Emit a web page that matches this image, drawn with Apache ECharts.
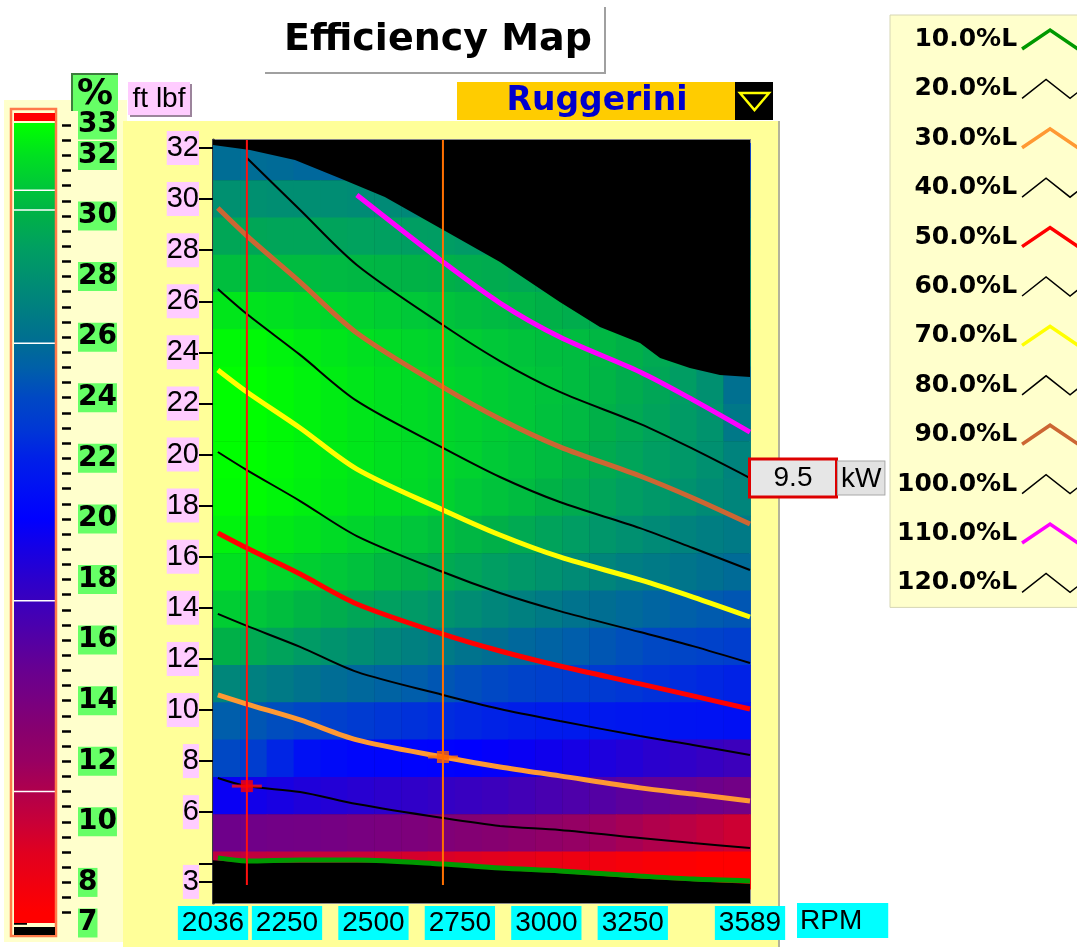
<!DOCTYPE html>
<html>
<head>
<meta charset="utf-8">
<title>Efficiency Map</title>
<script src="https://cdn.jsdelivr.net/npm/echarts@6/dist/echarts.min.js"></script>
<style>
  html, body { margin: 0; padding: 0; background: #ffffff; }
  #chart { width: 1077px; height: 947px; }
</style>
</head>
<body>
<div id="chart"></div>
<script>
// ---------------- data ----------------
const engineName = 'Ruggerini';
const ratedKw = 9.5;

// axis labels
const rpmTicks = [2036, 2250, 2500, 2750, 3000, 3250, 3589];
const torqueTicks = [3.27, 6, 8, 10, 12, 14, 16, 18, 20, 22, 24, 26, 28, 30, 32];
const torqueTickMarks = [3.27, 4, 6, 8, 10, 12, 14, 16, 18, 20, 22, 24, 26, 28, 30, 32];
const effScaleTicks = [6.66, 8, 10, 12, 14, 16, 18, 20, 22, 24, 26, 28, 30, 32, 33];
const effScaleBreaks = [30.85, 30.2, 25.8, 17.3, 11.0];

// efficiency cells (%), centre of each cell
const cellRpm = [2075, 2153, 2230, 2308, 2386, 2463, 2541, 2619, 2696, 2774,
                 2852, 2929, 3007, 3085, 3163, 3240, 3318, 3396, 3473, 3551];
const cellTorque = [31.47, 30.01, 28.55, 27.09, 25.63, 24.17, 22.71, 21.25, 19.79, 18.33,
                    16.87, 15.41, 13.95, 12.49, 11.03, 9.57, 8.11, 6.65, 5.19, 3.73];
const efficiency = [
  [25.8, 25.8, 25.7, 25.5, 25.4, 25.4, 25.2, 25.0, 24.9, 24.8, 24.6, 24.5, 24.3, 24.2, 24.0, 23.9, 23.7, 23.6, 23.4, 23.3],
  [28.0, 28.0, 27.9, 27.9, 27.8, 27.7, 27.6, 27.5, 27.3, 27.2, 27.0, 26.9, 26.7, 26.5, 26.4, 26.2, 26.0, 25.9, 25.7, 25.6],
  [29.4, 29.4, 29.3, 29.3, 29.2, 29.1, 29.0, 28.9, 28.8, 28.6, 28.5, 28.3, 28.1, 27.9, 27.8, 27.6, 27.4, 27.2, 27.0, 26.9],
  [30.6, 30.6, 30.5, 30.5, 30.4, 30.3, 30.2, 30.1, 30.0, 29.8, 29.7, 29.5, 29.3, 29.1, 28.9, 28.7, 28.5, 28.3, 28.1, 27.9],
  [32.2, 32.1, 32.0, 31.8, 31.6, 31.4, 31.2, 31.0, 30.8, 30.6, 30.4, 30.2, 30.0, 29.8, 29.6, 29.4, 29.2, 29.0, 28.8, 28.6],
  [32.8, 32.8, 32.6, 32.4, 32.2, 32.0, 31.8, 31.6, 31.4, 31.2, 31.0, 30.8, 30.6, 30.5, 30.3, 30.0, 29.6, 29.2, 28.6, 27.6],
  [33.0, 33.0, 32.8, 32.6, 32.4, 32.2, 32.0, 31.8, 31.6, 31.4, 31.2, 31.0, 30.8, 30.5, 30.2, 29.8, 29.4, 28.8, 28.0, 26.0],
  [33.0, 33.0, 32.8, 32.6, 32.4, 32.2, 32.0, 31.8, 31.6, 31.4, 31.2, 31.0, 30.7, 30.4, 30.0, 29.6, 29.2, 28.7, 28.2, 26.5],
  [33.0, 33.0, 32.8, 32.6, 32.4, 32.2, 32.0, 31.8, 31.6, 31.4, 31.1, 30.8, 30.5, 30.1, 29.7, 29.3, 28.9, 28.5, 28.0, 27.2],
  [32.9, 32.9, 32.7, 32.5, 32.3, 32.1, 31.9, 31.7, 31.4, 31.1, 30.8, 30.5, 30.1, 29.7, 29.3, 28.9, 28.5, 28.1, 27.7, 27.3],
  [32.6, 32.5, 32.3, 32.1, 31.8, 31.5, 31.2, 30.9, 30.6, 30.3, 30.0, 29.6, 29.2, 28.8, 28.4, 28.0, 27.6, 27.2, 26.9, 26.6],
  [32.0, 31.9, 31.6, 31.3, 31.0, 30.7, 30.3, 30.0, 29.6, 29.3, 28.9, 28.5, 28.1, 27.7, 27.3, 26.9, 26.6, 26.3, 26.0, 25.7],
  [31.2, 30.9, 30.6, 30.2, 29.8, 29.4, 29.0, 28.6, 28.2, 27.8, 27.4, 27.0, 26.6, 26.2, 25.9, 25.6, 25.3, 25.0, 24.8, 24.6],
  [30.0, 29.6, 29.2, 28.7, 28.2, 27.8, 27.4, 27.0, 26.6, 26.2, 25.9, 25.5, 25.2, 24.9, 24.6, 24.3, 24.0, 23.8, 23.6, 23.4],
  [27.4, 27.0, 26.6, 26.2, 25.8, 25.5, 25.2, 24.9, 24.6, 24.3, 24.0, 23.7, 23.5, 23.3, 23.1, 22.9, 22.7, 22.5, 22.3, 22.1],
  [24.9, 24.6, 24.2, 23.9, 23.5, 23.2, 22.9, 22.7, 22.5, 22.3, 22.1, 21.9, 21.7, 21.6, 21.5, 21.4, 21.3, 21.2, 21.1, 21.0],
  [24.0, 23.3, 22.2, 21.0, 20.6, 20.4, 20.3, 20.2, 20.1, 20.0, 19.8, 19.6, 19.3, 19.0, 18.7, 18.4, 18.1, 17.8, 17.5, 17.2],
  [19.6, 19.2, 18.9, 18.6, 18.4, 18.2, 18.0, 17.8, 17.6, 17.4, 17.2, 16.9, 16.6, 16.3, 16.0, 15.6, 15.3, 15.0, 14.7, 14.4],
  [14.6, 14.5, 14.4, 14.3, 14.2, 14.0, 13.9, 13.7, 13.5, 13.3, 13.1, 12.8, 12.5, 12.2, 11.8, 11.4, 11.0, 10.6, 10.2,  9.8],
  [10.4, 10.3, 10.2, 10.1, 10.0,  9.9,  9.7,  9.5,  9.3,  9.1,  8.9,  8.7,  8.4,  8.1,  7.9,  7.6,  7.4,  7.2,  7.0,  6.8]
];

// operating envelope (ft lbf)
const maxTorqueRpm = [2036, 2143, 2273, 2403, 2533, 2692, 2866, 3039, 3155, 3271, 3329, 3415, 3502, 3589];
const maxTorque    = [32.12, 31.92, 31.53, 30.82, 30.08, 28.87, 27.54, 25.97, 24.99, 24.37, 23.78, 23.39, 23.11, 23.04];
const minTorqueRpm = [2036, 2134, 2539, 2701, 2866, 3039, 3271, 3502, 3589];
const minTorque    = [4.12, 4.02, 4.03, 3.90, 3.74, 3.62, 3.40, 3.25, 3.20];

// constant-load lines (ft lbf at each rpm sample)
const loadNames = ['10.0%L', '20.0%L', '30.0%L', '40.0%L', '50.0%L', '60.0%L',
                   '70.0%L', '80.0%L', '90.0%L', '100.0%L', '110.0%L', '120.0%L'];
const loadRpm = [2050, 2134, 2288, 2452, 2701, 2866, 3039, 3271, 3424, 3589];
const load10  = [4.21, 4.09, 4.13, 4.13, 3.97, 3.81, 3.70, 3.50, 3.38, 3.31];
const load20  = [7.34, 7.02, 6.79, 6.32, 5.77, 5.46, 5.30, 4.99, 4.79, 4.60];
const load30  = [10.59, 10.23, 9.61, 8.83, 8.16, 7.77, 7.42, 6.95, 6.71, 6.44];
const load40  = [13.76, 13.29, 12.47, 11.49, 10.59, 10.04, 9.57, 8.98, 8.63, 8.24];
const load50  = [16.93, 16.34, 15.32, 14.15, 12.97, 12.31, 11.72, 11.02, 10.55, 10.04];
const load60  = [20.10, 19.39, 18.18, 16.81, 15.40, 14.58, 13.87, 13.05, 12.50, 11.84];
const load70  = [23.31, 22.45, 21.04, 19.43, 17.83, 16.85, 15.99, 15.09, 14.42, 13.64];
const load80  = [26.48, 25.50, 23.90, 22.10, 20.26, 19.12, 18.14, 17.12, 16.34, 15.48];
const load90  = [29.65, 28.56, 26.75, 24.76, 22.64, 21.39, 20.30, 19.16, 18.30, 17.28];
const load100 = [null, 31.61, 29.57, 27.42, 25.07, 23.66, 22.45, 21.20, 20.22, 19.08];
const load110 = [null, null, null, 30.16, 27.54, 25.93, 24.60, 23.23, 22.14, 20.88];
const load120 = [null, null, null, null, null, null, null, null, null, null];
const loadTorque = [load10, load20, load30, load40, load50, load60,
                    load70, load80, load90, load100, load110, load120];

// cursor operating points
const cursorRpm = [2134, 2701];
const cursorTorque = [7.02, 8.16];

// ---------------- styling ----------------
const TQ_MIN = 2.444, TQ_MAX = 32.313;
const CB_MIN = 6.66, CB_MAX = 33.07;
const HALF_RPM = 38.825, HALF_TQ = 0.73;

const effStops = [7, 8, 9, 10, 11, 12, 13, 14, 15, 16, 17, 18, 19, 20,
                  21, 22, 23, 24, 25, 26, 27, 28, 29, 30, 31, 32, 33];
const effStopColors = ['#ff0000', '#f00010', '#e00020', '#c80038', '#b0004c', '#980062', '#88006e',
                       '#780080', '#680090', '#5400a4', '#4000b8', '#2c00cc', '#1600e4', '#0000ff',
                       '#0010f4', '#0020e8', '#0038d4', '#0048c4', '#0060a8', '#007090', '#008080',
                       '#009070', '#00a060', '#00b048', '#00c838', '#00e020', '#00ff00'];

const loadColors = ['#009900', '#000000', '#ff9933', '#000000', '#ff0000', '#000000',
                    '#ffff00', '#000000', '#cc6633', '#000000', '#ff00ff', '#000000'];

function hexToRgb(h) {
  return [parseInt(h.substr(1, 2), 16), parseInt(h.substr(3, 2), 16), parseInt(h.substr(5, 2), 16)];
}
function effColor(v) {
  if (v <= effStops[0]) return effStopColors[0];
  const n = effStops.length;
  if (v >= effStops[n - 1]) return effStopColors[n - 1];
  let i = 0;
  while (v > effStops[i + 1]) i++;
  const t = (v - effStops[i]) / (effStops[i + 1] - effStops[i]);
  const a = hexToRgb(effStopColors[i]), b = hexToRgb(effStopColors[i + 1]);
  const c = a.map((x, k) => Math.round(x + (b[k] - x) * t));
  return 'rgb(' + c.join(',') + ')';
}

const effMinorTicks = [];
for (let v = 7; v <= 33; v += 0.5) effMinorTicks.push(v);

const heatData = [];
efficiency.forEach((row, j) => row.forEach((v, i) => heatData.push([cellRpm[i], cellTorque[j], v])));

const SANS = 'Liberation Sans';
const BOLD = 'DejaVu Sans';

const loadSeries = loadNames.map((name, i) => {
  const pts = [];
  loadRpm.forEach((r, k) => { if (loadTorque[i][k] != null) pts.push([r, loadTorque[i][k]]); });
  const thick = loadColors[i] !== '#000000';
  const s = {
    name: name, type: 'line', xAxisIndex: 0, yAxisIndex: 0,
    data: pts, showSymbol: false, symbol: 'none', smooth: 0.3,
    lineStyle: { color: loadColors[i], width: thick ? 5 : 2 },
    itemStyle: { color: loadColors[i] },
    z: 4, silent: true
  };
  if (name === '100.0%L') {
    s.endLabel = {
      show: true, distance: 1,
      formatter: () => '{v|' + ratedKw + '}{s|}{u|kW}',
      rich: {
        v: { fontFamily: SANS, fontSize: 28, color: '#000', backgroundColor: '#e6e6e6',
             borderColor: '#dd0000', borderWidth: 3, width: 84, height: 35, align: 'center', lineHeight: 35 },
        s: { width: 3 },
        u: { fontFamily: SANS, fontSize: 28, color: '#000', backgroundColor: '#e2e2e2',
             borderColor: '#a8a8a8', borderWidth: 1, padding: [2, 3, 0, 3], height: 31, lineHeight: 31 }
      }
    };
  }
  return s;
});

const cursorColors = ['#ff1010', '#ff7000'];
const cursorLines = cursorRpm.map((r, i) => ({
  type: 'line', xAxisIndex: 0, yAxisIndex: 0, silent: true,
  data: [[r, TQ_MAX], [r, 3.15]], showSymbol: false, symbol: 'none',
  lineStyle: { color: cursorColors[i], width: 2 }, z: 5
}));

const option = {
  animation: false,
  backgroundColor: '#ffffff',
  title: {
    text: 'Efficiency Map', left: 284, top: 19, padding: 0,
    textStyle: { fontFamily: BOLD, fontWeight: 'bold', fontSize: 38, lineHeight: 42, color: '#000' },
    z: 8
  },
  legend: {
    orient: 'vertical', left: 890, top: 15, align: 'right',
    itemWidth: 84, itemHeight: 19, itemGap: 24.4,
    padding: [12, 0, 12, 7],
    backgroundColor: '#ffffcc', borderColor: '#d6d6b4', borderWidth: 1,
    selectedMode: false,
    textStyle: { fontFamily: BOLD, fontWeight: 'bold', fontSize: 25, color: '#000' },
    data: loadNames.map((n, i) => {
      const thick = loadColors[i] !== '#000000';
      return {
        name: n,
        icon: thick ? 'path://M0,19L28,0L56,19L84,0' : 'path://M0,19L24,0L48,19L72,0L84,9.5',
        itemStyle: { color: 'rgba(0,0,0,0)', borderColor: loadColors[i], borderWidth: thick ? 3.5 : 1.5 }
      };
    })
  },
  grid: [
    { left: 213, top: 140, width: 537, height: 763, show: true, backgroundColor: '#000000',
      borderColor: '#8a8a8a', borderWidth: 2 },
    { left: 14, top: 123, width: 41, height: 800, show: false }
  ],
  xAxis: [
    { gridIndex: 0, type: 'value', min: 2036, max: 3589,
      axisLine: { show: false }, axisTick: { show: false }, splitLine: { show: false },
      axisLabel: { customValues: rpmTicks, formatter: v => String(v), showMinLabel: true, showMaxLabel: true,
                   margin: 3, fontFamily: SANS, fontSize: 28, color: '#000',
                   backgroundColor: '#00ffff', padding: [2, 4, 2, 4], lineHeight: 30 },
      name: 'RPM', nameLocation: 'end', nameGap: 47,
      nameTextStyle: { fontFamily: SANS, fontSize: 28, color: '#000', backgroundColor: '#00ffff',
                       padding: [3, 26, 2, 3], lineHeight: 30, verticalAlign: 'top', align: 'left' }
    },
    { gridIndex: 1, type: 'value', min: 0, max: 1, show: false }
  ],
  yAxis: [
    { gridIndex: 0, type: 'value', min: TQ_MIN, max: TQ_MAX,
      axisLine: { show: true, lineStyle: { color: '#3c3c3c', width: 3 } },
      axisTick: { show: true, customValues: torqueTickMarks, length: 14, lineStyle: { color: '#000', width: 2 } },
      axisLabel: { customValues: torqueTicks, formatter: v => String(Math.round(v)), margin: 14,
                   showMinLabel: true, showMaxLabel: true,
                   fontFamily: SANS, fontSize: 29, color: '#000', backgroundColor: '#ffccff', lineHeight: 34 },
      splitLine: { show: false } },
    { gridIndex: 1, type: 'value', min: CB_MIN, max: CB_MAX, position: 'right', offset: 7,
      axisLine: { show: false },
      axisTick: { show: true, customValues: effScaleTicks, length: 13, lineStyle: { color: '#000', width: 2.5 } },
      axisLabel: { customValues: effScaleTicks, formatter: v => String(Math.round(v)), margin: 16,
                   showMinLabel: true, showMaxLabel: true, hideOverlap: false,
                   fontFamily: BOLD, fontWeight: 'bold', fontSize: 28, color: '#000',
                   backgroundColor: '#66ff66', lineHeight: 29 },
      splitLine: { show: false } },
    { gridIndex: 1, type: 'value', min: CB_MIN, max: CB_MAX, position: 'right', offset: 7,
      axisLine: { show: false }, axisLabel: { show: false }, splitLine: { show: false },
      axisTick: { show: true, customValues: effMinorTicks, length: 9, lineStyle: { color: '#000', width: 2.5 } } }
  ],
  graphic: { elements: [
    // panels
    { type: 'rect', z: -20, shape: { x: 4, y: 100, width: 123, height: 842 }, style: { fill: '#ffffcc' } },
    { type: 'rect', z: -19, shape: { x: 123, y: 121, width: 657, height: 826 }, style: { fill: '#ffff99' } },
    { type: 'rect', z: -18, shape: { x: 778, y: 121, width: 2, height: 826 }, style: { fill: '#b4b49a' } },
    // title box
    { type: 'rect', z: 7, shape: { x: 265, y: 7, width: 341, height: 67 }, style: { fill: '#a0a0a0' } },
    { type: 'rect', z: 7, shape: { x: 263, y: 5, width: 341, height: 67 }, style: { fill: '#ffffff' } },
    // % unit
    { type: 'rect', z: 10, shape: { x: 71, y: 73, width: 47, height: 38 }, style: { fill: '#3d7d3d' } },
    { type: 'rect', z: 10, shape: { x: 73, y: 75, width: 45, height: 36 }, style: { fill: '#66ff66' } },
    { type: 'text', z: 11, style: { x: 95, y: 95, text: '%', font: 'bold 36px "DejaVu Sans"', fill: '#000',
      align: 'center', verticalAlign: 'middle' } },
    // ft lbf unit
    { type: 'rect', z: 10, shape: { x: 130, y: 84, width: 62, height: 33 }, style: { fill: '#9c849c' } },
    { type: 'rect', z: 10, shape: { x: 128, y: 82, width: 62, height: 33 }, style: { fill: '#ffccff' } },
    { type: 'text', z: 11, style: { x: 159, y: 99, text: 'ft lbf', font: '28px "Liberation Sans"', fill: '#000',
      align: 'center', verticalAlign: 'middle' } },
    // engine selector
    { type: 'rect', z: 10, shape: { x: 457, y: 82, width: 278, height: 38 }, style: { fill: '#ffcc00' } },
    { type: 'text', z: 11, style: { x: 597, y: 101, text: engineName, font: 'bold 33px "DejaVu Sans"', fill: '#0000cc',
      align: 'center', verticalAlign: 'middle' } },
    { type: 'rect', z: 10, shape: { x: 735, y: 82, width: 38, height: 38 }, style: { fill: '#000' } },
    { type: 'polygon', z: 11, shape: { points: [[740, 93], [769, 93], [754.5, 110]] },
      style: { fill: 'none', stroke: '#ffff00', lineWidth: 2.5 } },
    // colour scale frame
    { type: 'rect', z: 10, shape: { x: 11, y: 109, width: 45, height: 827 },
      style: { fill: 'none', stroke: '#ff7a4a', lineWidth: 2.5 } },
    { type: 'rect', z: 10, shape: { x: 14, y: 113, width: 41, height: 8 }, style: { fill: '#ff0000' } },
    { type: 'rect', z: 10, shape: { x: 14, y: 927, width: 41, height: 8 }, style: { fill: '#000000' } }
  ] },
  series: [
    { // efficiency cells
      type: 'custom', xAxisIndex: 0, yAxisIndex: 0, silent: true, z: 1,
      data: heatData,
      renderItem: (params, api) => {
        const rpm = api.value(0), tq = api.value(1), eff = api.value(2);
        const p0 = api.coord([rpm - HALF_RPM, tq + HALF_TQ]);
        const p1 = api.coord([rpm + HALF_RPM, tq - HALF_TQ]);
        return { type: 'rect',
          shape: { x: p0[0], y: p0[1], width: p1[0] - p0[0] + 0.6, height: p1[1] - p0[1] + 0.6 },
          style: { fill: effColor(eff) } };
      }
    },
    { // outside the operating envelope
      type: 'custom', xAxisIndex: 0, yAxisIndex: 0, silent: true, z: 2,
      data: [[2036, TQ_MAX]],
      renderItem: (params, api) => {
        const top = [api.coord([2036, TQ_MAX])];
        maxTorqueRpm.forEach((r, i) => top.push(api.coord([r, maxTorque[i]])));
        top.push(api.coord([3589, TQ_MAX]));
        const bot = [api.coord([2036, TQ_MIN])];
        minTorqueRpm.forEach((r, i) => bot.push(api.coord([r, minTorque[i]])));
        bot.push(api.coord([3589, TQ_MIN]));
        return { type: 'group', children: [
          { type: 'polygon', shape: { points: top }, style: { fill: '#000' } },
          { type: 'polygon', shape: { points: bot }, style: { fill: '#000' } }
        ] };
      }
    },
    ...loadSeries,
    ...cursorLines,
    { // cursor cross bars
      type: 'scatter', xAxisIndex: 0, yAxisIndex: 0, silent: true, z: 6,
      symbol: 'rect', symbolSize: [30, 3],
      data: cursorRpm.map((r, i) => ({ value: [r, cursorTorque[i]], itemStyle: { color: cursorColors[i] } }))
    },
    { // cursor points
      type: 'scatter', xAxisIndex: 0, yAxisIndex: 0, silent: true, z: 7,
      symbol: 'rect', symbolSize: 12,
      data: cursorRpm.map((r, i) => ({ value: [r, cursorTorque[i]],
        itemStyle: { color: i === 0 ? '#ff0000' : '#ff6600' } }))
    },
    { // colour scale
      type: 'custom', xAxisIndex: 1, yAxisIndex: 1, silent: true, z: 3,
      data: [[0, CB_MIN]],
      renderItem: (params, api) => {
        const a = api.coord([0, CB_MAX]), b = api.coord([1, CB_MIN]);
        const stops = effStops.map((v, i) => ({ offset: (v - CB_MIN) / (CB_MAX - CB_MIN), color: effStopColors[i] }));
        const children = [{ type: 'rect', shape: { x: a[0], y: a[1], width: b[0] - a[0], height: b[1] - a[1] },
          style: { fill: new echarts.graphic.LinearGradient(0, 1, 0, 0, stops) } }];
        effScaleBreaks.forEach(v => {
          const p = api.coord([0, v]);
          children.push({ type: 'line', shape: { x1: a[0], y1: p[1], x2: b[0], y2: p[1] },
            style: { stroke: '#ffffff', lineWidth: 1.5 } });
        });
        return { type: 'group', children: children };
      }
    }
  ]
};

const chart = echarts.init(document.getElementById('chart'), null, { renderer: 'canvas' });
chart.setOption(option);
</script>
</body>
</html>
